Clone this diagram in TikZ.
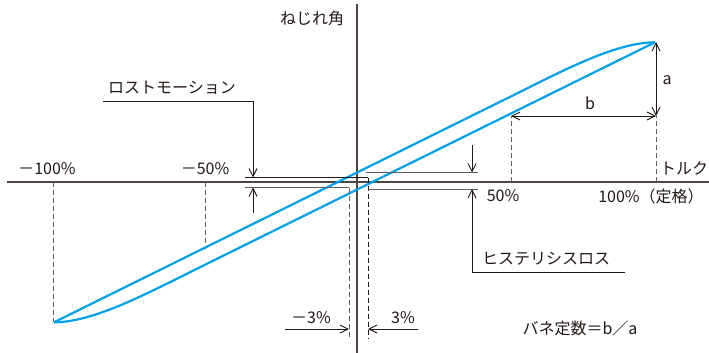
\documentclass[tikz,border=0pt]{standalone}
\usepackage{fontspec}
\setmainfont{Noto Sans CJK JP}
\usetikzlibrary{arrows.meta}
\definecolor{loopblue}{RGB}{0,160,233}
\definecolor{ink}{RGB}{35,24,21}
\tikzset{
  axisline/.style={line width=1.2pt, color=ink!80},
  guide/.style={line width=1pt, color=ink!70, dash pattern=on 5pt off 3pt},
  guidedark/.style={line width=1pt, color=ink, dash pattern=on 5pt off 3pt},
  leader/.style={line width=0.9pt, color=ink},
  leaderlight/.style={line width=0.9pt, color=ink!70},
  tipend/.style={-{Straight Barb[length=8pt,width=8pt]}},
  tipboth/.style={{Straight Barb[length=8pt,width=8pt]}-{Straight Barb[length=8pt,width=8pt]}},
  loopline/.style={line width=2.2pt, color=loopblue},
  lbl/.style={inner sep=0pt, text=ink, font=\fontsize{16}{19}\selectfont},
}

\begin{document}
\begin{tikzpicture}[x=1pt,y=-1pt]
		%%%%% START %%%%%
		\useasboundingbox (0,0) rectangle (709,353);

		% axes
		\draw[axisline] (7,182) -- (709,182);
		\draw[axisline] (357,4) -- (357,353);
		\node[lbl] (angle) at (312,18) {ねじれ角};
		\node[lbl] (torque) at (684,168) {トルク};

		% guides down to the axis
		\draw[guide] (53,182) -- (53,322);
		\draw[guide] (205,182) -- (205,249);
		\draw[guide] (511,182) -- (511,116);
		\draw[guide] (656,182) -- (656,116);
		\node[lbl] (mhundred) at (47,169) {－100\%};
		\node[lbl] (mfifty) at (205,169) {－50\%};
		\node[lbl] (pfifty) at (503,196) {50\%};
		\node[lbl] (phundred) at (651,196) {100\%（定格）};

		% hysteresis loop
		\coordinate (tipL) at (54,322.3);
		\coordinate (tipR) at (655,42.3);
		\draw[loopline] (tipL) -- (510,96.9) .. controls (560,72.2) and (615,42.3) .. (tipR);
		\draw[loopline] (tipR) -- (199,267.7) .. controls (149,292.4) and (94,322.3) .. (tipL);

		% spring rate a and b
		\draw[leader, tipboth] (656,42) -- (656,116);
		\draw[leader, tipboth] (511,116) -- (656,116);
		\node[lbl] (alen) at (667,80) {a};
		\node[lbl] (blen) at (590,103) {b};

		% lost motion
		\draw[leader] (245,177.5) -- (368,177.5);
		\draw[leaderlight] (245,187.5) -- (349,187.5);
		\draw[guidedark] (368,177.5) -- (368,338);
		\draw[guide] (349,187.5) -- (349,338);
		\node[lbl] (lost) at (172,88) {ロストモーション};
		\draw[leader, tipend] (103,101) -- (253,101) -- (253,177.5);
		\draw[leader, tipend] (253,213) -- (253,187.5);

		% hysteresis loss
		\draw[leaderlight] (366,172.5) -- (478,172.5);
		\draw[leaderlight] (368,189) -- (478,189);
		\draw[leader, tipend] (472,145) -- (472,172.5);
		\draw[leader, tipend] (625,272) -- (472,272) -- (472,189);
		\node[lbl] (hyst) at (546,259) {ヒステリシスロス};

		% plus minus 3 percent
		\draw[leader, tipend] (285,329) -- (349,329);
		\draw[leader, tipend] (418,329) -- (368,329);
		\node[lbl] (mthree) at (311,318) {－3\%};
		\node[lbl] (pthree) at (403,318) {3\%};

		\node[lbl] (rate) at (580,328) {バネ定数＝b／a};
		%%%%% END %%%%%
\end{tikzpicture}
\end{document}
